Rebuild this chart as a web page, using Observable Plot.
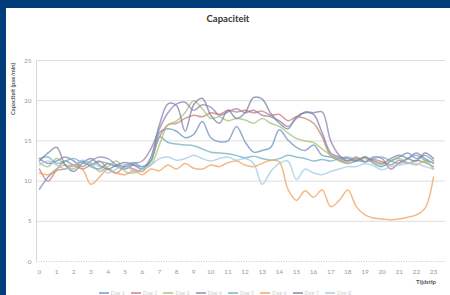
<!DOCTYPE html>
<html><head><meta charset="utf-8">
<script src="https://cdn.jsdelivr.net/npm/d3@7"></script>
<script src="https://cdn.jsdelivr.net/npm/@observablehq/plot@0.6"></script>
<style>
html,body{margin:0;padding:0;background:#003b7a;width:450px;height:295px;overflow:hidden;font-family:Lato,"Open Sans",sans-serif;}
#panel{position:absolute;left:6px;top:8px;width:444px;height:287px;background:#fff;}
#chart{position:absolute;left:0;top:0;}
#title{position:absolute;left:6px;width:444px;top:13px;text-align:center;font-weight:bold;font-size:9.5px;color:#333;}
#ytitle{position:absolute;left:-37px;top:85px;width:100px;height:8px;line-height:8px;text-align:center;font-size:5.8px;font-weight:bold;color:#555;transform:rotate(-90deg);}
#xtitle{position:absolute;left:380px;width:56px;top:278px;text-align:right;font-size:6px;font-weight:bold;color:#555;}
#legend{position:absolute;left:0;width:450px;top:290px;display:flex;justify-content:center;gap:6px;font-size:5.5px;color:#bbb;opacity:0.7;}
#legend span{display:inline-flex;align-items:center;gap:2px;}
#legend i{display:inline-block;width:10px;height:1.5px;}
</style></head>
<body>
<div id="panel"></div>
<div id="title">Capaciteit</div>
<div id="ytitle">Capaciteit (pae/min)</div>
<div id="chart"></div>
<div id="xtitle">Tijdstip</div>
<div id="legend"></div>
<script>
const hours = [0,0.5,1,1.5,2,2.5,3,3.5,4,4.5,5,5.5,6,6.5,7,7.5,8,8.5,9,9.5,10,10.5,11,11.5,12,12.5,13,13.5,14,14.5,15,15.5,16,16.5,17,17.5,18,18.5,19,19.5,20,20.5,21,21.5,22,22.5,23];
const hourTicks = [0,1,2,3,4,5,6,7,8,9,10,11,12,13,14,15,16,17,18,19,20,21,22,23];
const yTicks = [0,5,10,15,20,25];
const seriesNames = ["Dag 1","Dag 2","Dag 3","Dag 4","Dag 5","Dag 6","Dag 7","Dag 8"];
const seriesColors = ["#6e92c6","#c77f72","#a9c077","#9a7cb4","#6cb3be","#f0a25c","#7a84a6","#9fcbe6"];

const dag1 = [9,10.5,11.5,12.5,12,12.5,11.8,11.5,12.2,11.8,11.5,12,11.8,12.5,16,16.5,16.2,15.4,15.8,17.4,15.4,14.9,15,16.8,14.9,13.6,13.8,14.2,16.4,15.1,14.2,13.8,14.5,13.2,13,12.6,12.2,12.5,13,12.2,11.8,12.5,13,13.5,12.8,13.2,12.5];
const dag2 = [11.5,10,11.3,11.5,12,11.5,12,12.5,11.5,11,11.8,11.5,11.2,12.5,15.5,17,17.2,17.8,18.2,18,18.5,18.3,18.8,18.6,18.8,18.5,18.7,18.2,18.3,17.5,18,17.8,17.2,15.5,13.2,12.8,12.5,13,12.4,12.7,12.4,12,12.6,12.2,12.6,12.3,11.8];
const dag3 = [12.3,11.8,12.8,12,11.5,12.5,12.2,11.2,11.8,12.5,11.2,11,11.5,12,14.5,17,17.5,18.5,20,19,17.8,18,17.5,17.8,17.6,17.2,17.8,17.2,16.8,16,15.3,15,14.8,14,13.2,12.5,12.2,12.6,12.8,12.3,12,12.5,12.8,12.3,12,12.5,11.5];
const dag4 = [12.8,12.2,12.5,13,12.5,11.8,12.5,13,12.8,12,11.8,12.2,12.5,14,16.5,18.5,19.6,19.8,18.8,19.5,19.2,18.2,18.6,19,18.5,18.8,18.2,18,17.5,16.8,17.8,18.6,18.5,18.6,15,13.2,12.5,12.8,12.4,13,12.8,11.5,12.3,12.8,13.5,12.8,12.2];
const dag5 = [12.8,13,12.2,12.5,12.8,12.3,12,12.4,12.2,11.8,12,12.3,11.8,12.5,15.5,14.8,14.6,14.5,14.4,14,13.6,13.5,13.4,13.2,12.9,13.1,12.8,12.6,12.8,13.2,13,12.8,12.5,12.7,12.5,12.8,13,12.6,12.4,12.8,13,12.5,12.2,12.8,13.2,12.6,12.3];
const dag6 = [11,10.8,11.5,12,11.8,11.5,9.6,10.5,11.5,11,10.8,11.3,10.8,11.5,11.3,12,11.5,12.2,11.6,11.5,12,11.8,12.3,12.5,12,11.8,12.2,12.6,12.4,9,7.6,8.8,8,8.9,6.8,7.6,8.9,6.8,5.8,5.4,5.3,5.2,5.3,5.5,5.8,6.6,10.5];
const dag7 = [12.5,13.5,14.2,12,11.2,12.2,12.8,12,11.5,12,12.3,12,11.5,13,17,19.6,19.4,16.2,19.5,20.3,18.2,17.2,18.8,17.8,18.5,20.4,20.2,18.4,17.2,16.5,18,18.5,18.3,16,13.5,13,12.8,12.5,13,12.5,12.2,12.8,13.2,12.8,12.5,13.5,12.8];
const dag8 = [12,12.5,12,11.5,12,12.6,12.3,11.8,11,11.5,12,11.2,11.5,12,12.8,13,12.6,12.8,13.2,12.8,12.5,12.8,13,12.6,12.8,12.2,9.6,11.2,12.2,12.5,10.2,11.5,11,10.8,11.2,11.5,11.8,11.8,12.2,11.9,11.4,11.8,12,12.2,12.2,11.8,11.5];

const allSeries = [dag1,dag2,dag3,dag4,dag5,dag6,dag7,dag8];
const rows = [];
allSeries.forEach((vals, i) => vals.forEach((v, j) => rows.push({series: seriesNames[i], hour: hours[j], value: v})));

const chart = Plot.plot({
  width: 450, height: 295,
  marginLeft: 36, marginRight: 5, marginTop: 60, marginBottom: 34,
  style: {background: "transparent", fontFamily: "Lato, 'Open Sans', sans-serif", fontSize: "6.5px", color: "#999"},
  x: {domain: [-0.175, 23.7], ticks: hourTicks, tickFormat: d => d, label: null, tickSize: 0, tickPadding: 8},
  y: {domain: [0, 25], ticks: yTicks, label: null, tickSize: 0, tickPadding: 5},
  color: {domain: seriesNames, range: seriesColors},
  marks: [
    Plot.ruleY(yTicks.filter(v => v > 0), {stroke: "#dedede", strokeWidth: 1}),
    Plot.ruleY([0], {stroke: "#c8c8c8", strokeDasharray: "1,1.5"}),
    Plot.frame({anchor: "left", stroke: "#d8d8d8"}),
    Plot.line(rows, {x: "hour", y: "value", z: "series", stroke: "series", curve: "catmull-rom", strokeWidth: 1.5, strokeOpacity: 0.75})
  ]
});
document.getElementById("chart").appendChild(chart);

const leg = document.getElementById("legend");
seriesNames.forEach((n, i) => {
  const s = document.createElement("span");
  s.innerHTML = `<i style="background:${seriesColors[i]}"></i>${n}`;
  leg.appendChild(s);
});
</script>
</body></html>
